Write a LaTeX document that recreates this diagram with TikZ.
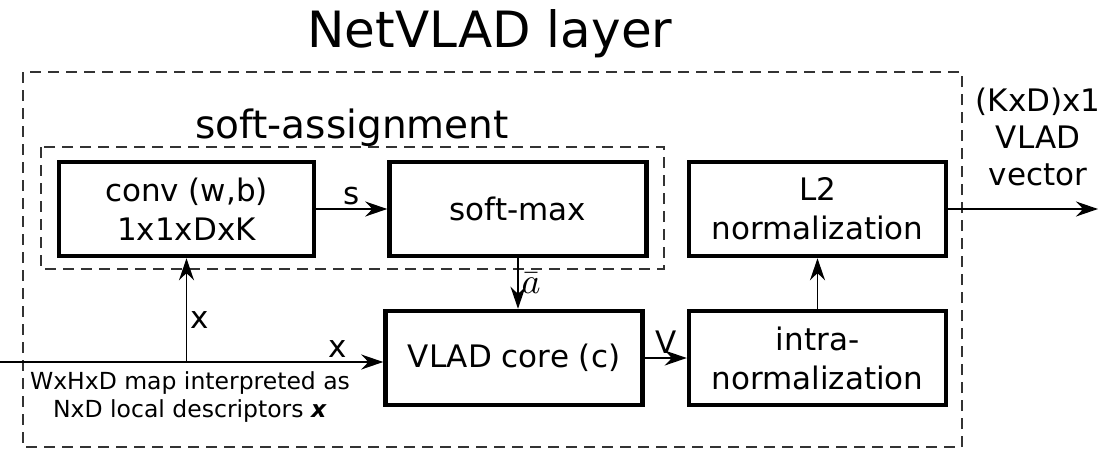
\documentclass[tikz,border=0pt]{standalone}
\usepackage{fontspec}
\setmainfont{DejaVu Sans}
\usetikzlibrary{arrows.meta, positioning}

\begin{document}
\begin{tikzpicture}[x=1pt, y=-1pt, node distance=300pt, on grid,
        block/.style={rectangle, draw, line width=4.5pt, minimum width=257pt,
            minimum height=94pt, align=center, font=\fontsize{31}{39}\selectfont},
        lbl/.style={font=\fontsize{31}{31}\selectfont},
        conn/.style={draw, line width=1.4pt, -{Stealth[length=22pt, width=15pt]}},
        group/.style={draw=black!80, dash pattern=on 11pt off 7pt, line width=1.5pt}]

      \useasboundingbox (0,0) rectangle (1114,450);

      % Layer and soft-assignment groups
      \draw[group] (23,72) rectangle (962,447);
      \draw[group] (41,147) rectangle (664,269);
      \node[font=\fontsize{50}{50}\selectfont, anchor=base] (title) at (490,47) {NetVLAD layer};
      \node[font=\fontsize{39}{39}\selectfont, anchor=base] (softLabel) at (352,138) {soft-assignment};

      % Blocks
      \node[block, minimum width=255pt] (conv) at (186.5,209) {conv (w,b)\\1x1xDxK};
      \node[block, right=331.5pt of conv] (softMax) {soft-max};
      \node[block, right=299.5pt of softMax] (l2Norm) {L2\\normalization};
      \node[block, below=149pt of l2Norm] (intraNorm) {intra-\\normalization};
      \node[block, left=303.5pt of intraNorm] (vladCore) {VLAD core (c)};

      % Input and output ends
      \coordinate (input) at (0,362);
      \coordinate (output) at (1098,212);
      \node[align=center, font=\fontsize{23.5}{28}\selectfont] (inputText) at (190,397)
        {WxHxD map interpreted as\\NxD local descriptors \textbf{\textit{x}}};
      \node[align=center, font=\fontsize{31}{37}\selectfont] (outputText) at (1038,137)
        {(KxD)x1\\VLAD\\vector};

      % Connections
      \path
        (input) edge[conn] node[lbl, above, pos=0.88] {x} (input -| vladCore.west)
        (input -| conv.south) edge[conn] node[lbl, right, pos=0.4] {x} (conv.south)
        (conv) edge[conn] node[lbl, above] {s} (softMax)
        (softMax.south) edge[conn] node[right, pos=0.5, inner sep=3pt] {\scalebox{3.6}{$\bar{a}$}} (softMax.south |- vladCore.north)
        (vladCore) edge[conn] node[lbl, above] {V} (intraNorm)
        (intraNorm) edge[conn] (l2Norm)
        (l2Norm.east) edge[conn] (output |- l2Norm.east);

    \end{tikzpicture}
\end{document}
